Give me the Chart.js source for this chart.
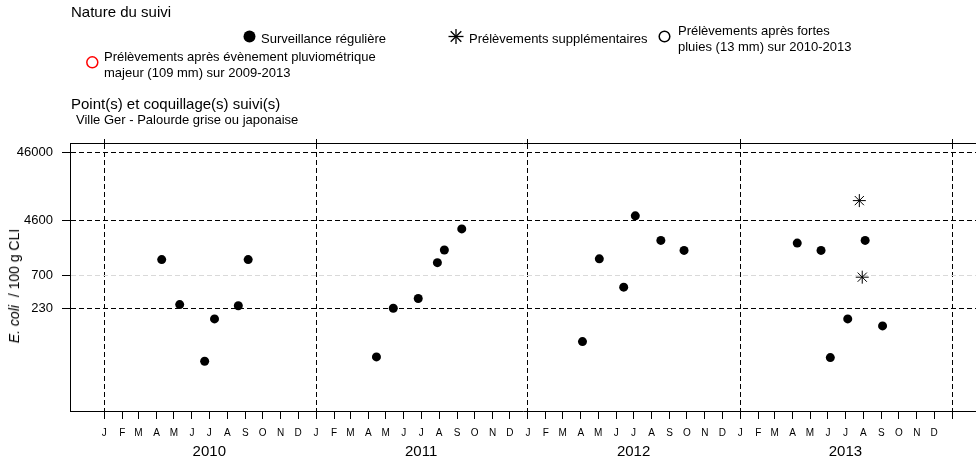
<!DOCTYPE html>
<html>
<head>
<meta charset="utf-8">
<script src="https://cdn.jsdelivr.net/npm/chart.js@4.4.0/dist/chart.umd.min.js"></script>
<style>
  body { margin: 0; background: #fff; font-family: "Liberation Sans", Arial, sans-serif; color: #000; }
  #wrap { position: relative; width: 976px; height: 463px; overflow: hidden; }
  #wrap canvas { position: absolute; left: 0; top: 0; }
  .t { position: absolute; white-space: nowrap; line-height: 1; }
  .l2 { position: absolute; white-space: nowrap; line-height: 16px; font-size: 13px; }
  #ytitle { position: absolute; left: 13.5px; top: 285.5px; font-size: 14px; white-space: nowrap;
            transform: translate(-50%, -50%) rotate(-90deg); }
  svg { position: absolute; left: 0; top: 0; }
</style>
</head>
<body>
<div id="wrap">
  <canvas id="chart" width="976" height="463"></canvas>
  <div class="t" style="left:71px;top:4px;font-size:15px">Nature du suivi</div>
  <div class="t" style="left:261px;top:32px;font-size:13px">Surveillance régulière</div>
  <div class="t" style="left:469px;top:32px;font-size:13px">Prélèvements supplémentaires</div>
  <div class="l2" style="left:678px;top:22.5px">Prélèvements après fortes<br>pluies (13 mm) sur 2010-2013</div>
  <div class="l2" style="left:104px;top:49px">Prélèvements après évènement pluviométrique<br>majeur (109 mm) sur 2009-2013</div>
  <div class="t" style="left:71px;top:96px;font-size:15px">Point(s) et coquillage(s) suivi(s)</div>
  <div class="t" style="left:76px;top:113px;font-size:13px">Ville Ger - Palourde grise ou japonaise</div>
  <div id="ytitle"><i>E. coli</i>&nbsp; / 100 g CLI</div>
  <svg width="976" height="90">
    <circle cx="249.5" cy="36.5" r="6" fill="#000"/>
    <g stroke="#000" stroke-width="1.3">
      <line x1="448.5" y1="36.5" x2="463.5" y2="36.5"/>
      <line x1="456" y1="29" x2="456" y2="44"/>
      <line x1="450.7" y1="31.2" x2="461.3" y2="41.8"/>
      <line x1="450.7" y1="41.8" x2="461.3" y2="31.2"/>
    </g>
    <circle cx="664.5" cy="36.5" r="5.3" fill="none" stroke="#000" stroke-width="1.5"/>
    <circle cx="92.3" cy="62.3" r="5.5" fill="none" stroke="#ff0000" stroke-width="1.5"/>
  </svg>
</div>
<script>
// Surveillance régulière
const regDates = ['2010-04-10', '2010-05-11', '2010-06-23', '2010-07-10', '2010-08-20', '2010-09-06',
                  '2011-04-15', '2011-05-14', '2011-06-26', '2011-07-29', '2011-08-10', '2011-09-09',
                  '2012-04-04', '2012-05-03', '2012-06-14', '2012-07-04', '2012-08-17', '2012-09-26',
                  '2013-04-09', '2013-05-20', '2013-06-05', '2013-07-05', '2013-08-04', '2013-09-03'];
const regValues = [1200, 260, 38, 160, 250, 1200,
                   44, 230, 320, 1080, 1660, 3400,
                   74, 1230, 470, 5300, 2300, 1640,
                   2100, 1640, 43, 160, 2300, 126];

// Prélèvements supplémentaires
const suppDates = ['2013-07-25', '2013-07-30'];
const suppValues = [8900, 660];

// axes
const years = [2010, 2011, 2012, 2013];
const monthLetters = ['J', 'F', 'M', 'A', 'M', 'J', 'J', 'A', 'S', 'O', 'N', 'D'];
const yTicks = [230, 700, 4600, 46000];

const DAY = 86400000;
const origin = Date.UTC(2010, 0, 1);
const toDay = s => (Date.parse(s + 'T00:00:00Z') - origin) / DAY;
const dayOf = (y, m, d) => (Date.UTC(y, m, d) - origin) / DAY;

const xMin = dayOf(2009, 10, 3);
const xMax = dayOf(2014, 1, 11.4);

// month starts, Jan 2010 .. Jan 2014
const monthTicks = [];
years.forEach(y => monthLetters.forEach((m, i) => monthTicks.push({ value: dayOf(y, i, 1), label: m })));
monthTicks.push({ value: dayOf(2014, 0, 1), label: '' });
const janTicks = years.concat([2014]).map(y => dayOf(y, 0, 1));
const yearTicks = years.map(y => ({ value: dayOf(y, 6, 1), label: String(y) }));

const font = 'Liberation Sans, Arial, sans-serif';
const dash = [5, 3];
const noSidePad = s => { s.paddingLeft = 0; s.paddingRight = 0; };

new Chart(document.getElementById('chart'), {
    type: 'scatter',
    data: {
        datasets: [
            {
                label: 'Surveillance régulière',
                data: regDates.map((d, i) => ({ x: toDay(d), y: regValues[i] })),
                pointStyle: 'circle',
                pointRadius: 4.5,
                backgroundColor: '#000',
                borderColor: '#000',
                borderWidth: 0
            },
            {
                label: 'Prélèvements supplémentaires',
                data: suppDates.map((d, i) => ({ x: toDay(d), y: suppValues[i] })),
                pointStyle: 'star',
                pointRadius: 6.5,
                backgroundColor: 'rgba(0,0,0,0)',
                borderColor: '#000',
                borderWidth: 1
            }
        ]
    },
    options: {
        responsive: false,
        animation: false,
        layout: { autoPadding: false, padding: { top: 143, left: 0, right: 0, bottom: 0 } },
        plugins: { legend: { display: false }, tooltip: { enabled: false } },
        scales: {
            // month letters + solid tick marks
            x: {
                type: 'linear',
                position: 'bottom',
                weight: 0,
                min: xMin,
                max: xMax,
                afterBuildTicks: s => { s.ticks = monthTicks.map(t => ({ value: t.value })); },
                afterFit: s => { noSidePad(s); s.height = 28; },
                ticks: {
                    autoSkip: false,
                    maxRotation: 0,
                    padding: 8,
                    color: '#000',
                    font: { family: font, size: 10 },
                    callback: (v, i) => monthTicks[i] ? monthTicks[i].label : ''
                },
                grid: {
                    drawOnChartArea: false,
                    color: '#000',
                    tickColor: '#000',
                    tickWidth: 1,
                    tickLength: 8,
                    tickBorderDash: [1, 0]
                },
                border: { display: true, color: '#000', width: 1 }
            },
            // year labels
            xYear: {
                type: 'linear',
                position: 'bottom',
                weight: 1,
                min: xMin,
                max: xMax,
                afterBuildTicks: s => { s.ticks = yearTicks.map(t => ({ value: t.value })); },
                afterFit: s => { noSidePad(s); s.height = 24; },
                ticks: {
                    autoSkip: false,
                    maxRotation: 0,
                    padding: 4,
                    color: '#000',
                    font: { family: font, size: 15 },
                    callback: (v, i) => yearTicks[i] ? yearTicks[i].label : ''
                },
                grid: { display: false, drawTicks: false, tickLength: 0 },
                border: { display: false }
            },
            // top frame + dashed January lines
            xTop: {
                type: 'linear',
                position: 'top',
                min: xMin,
                max: xMax,
                afterBuildTicks: s => { s.ticks = janTicks.map(v => ({ value: v })); },
                afterFit: s => { noSidePad(s); s.height = 0; },
                ticks: { display: false },
                grid: {
                    color: '#000',
                    lineWidth: 1,
                    drawTicks: true,
                    tickLength: 4,
                    tickColor: '#000',
                    tickWidth: 1,
                    tickBorderDash: [1, 0]
                },
                border: { display: true, color: '#000', width: 1, dash: dash }
            },
            y: {
                type: 'logarithmic',
                position: 'left',
                min: 7,
                max: 63000,
                afterBuildTicks: s => { s.ticks = yTicks.map(v => ({ value: v })); },
                afterFit: s => { s.width = 70; },
                ticks: {
                    padding: 9,
                    color: '#000',
                    font: { family: font, size: 13 },
                    callback: v => String(v)
                },
                grid: {
                    color: c => (c.tick && c.tick.value === 700) ? '#d9d9d9' : '#000',
                    tickColor: '#000',
                    tickWidth: 1,
                    tickLength: 8,
                    tickBorderDash: [1, 0],
                    lineWidth: 1
                },
                border: { display: true, color: '#000', width: 1, dash: dash }
            }
        }
    }
});
</script>
</body>
</html>
